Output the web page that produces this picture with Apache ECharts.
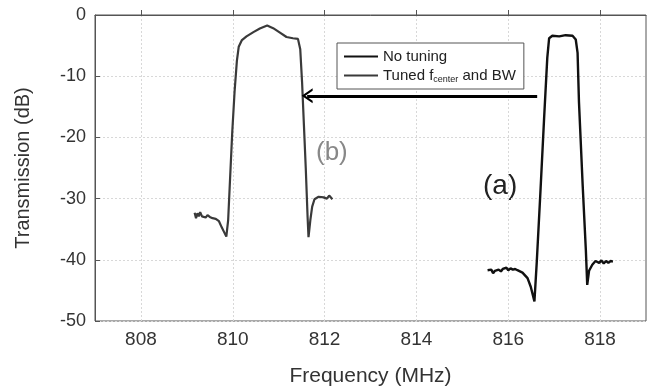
<!DOCTYPE html>
<html>
<head>
<meta charset="utf-8">
<script src="https://cdn.jsdelivr.net/npm/echarts@6/dist/echarts.min.js"></script>
<style>
html,body{margin:0;padding:0;background:#fff;}
#c{width:649px;height:392px;}
</style>
</head>
<body>
<div id="c"></div>
<script>
// ---- data ----
const xTicks = [808, 810, 812, 814, 816, 818];
const yTicks = [0, -10, -20, -30, -40, -50];
const seriesNames = ['No tuning', 'Tuned fcenter and BW'];

// (a) No tuning
const noTuningX = [815.55, 815.59, 815.63, 815.67, 815.71, 815.75, 815.79, 815.84, 815.88, 815.92, 815.96, 816.00, 816.05, 816.10, 816.15, 816.20, 816.31, 816.42, 816.49, 816.57, 816.62, 816.70, 816.78, 816.85, 816.89, 816.96, 817.11, 817.25, 817.40, 817.47, 817.51, 817.54, 817.62, 817.69, 817.72, 817.76, 817.83, 817.90, 817.98, 818.03, 818.08, 818.13, 818.18, 818.23, 818.28];
const noTuningY = [-41.7, -42.0, -41.6, -42.2, -41.8, -42.1, -41.6, -41.9, -41.5, -41.8, -41.3, -41.7, -41.4, -41.6, -41.5, -41.7, -42.1, -43.0, -44.4, -46.8, -40.5, -29.0, -17.0, -7.0, -3.8, -3.4, -3.5, -3.3, -3.4, -4.0, -6.2, -14.2, -27.7, -38.4, -44.1, -41.8, -40.8, -40.2, -40.5, -40.1, -40.6, -40.2, -40.5, -40.2, -40.3];

// (b) Tuned fcenter and BW
const tunedX = [809.17, 809.20, 809.23, 809.26, 809.29, 809.33, 809.37, 809.41, 809.45, 809.50, 809.56, 809.63, 809.70, 809.76, 809.82, 809.86, 809.90, 809.94, 809.99, 810.04, 810.09, 810.13, 810.20, 810.30, 810.45, 810.59, 810.75, 810.88, 811.02, 811.17, 811.31, 811.42, 811.47, 811.51, 811.55, 811.59, 811.63, 811.65, 811.69, 811.73, 811.78, 811.87, 811.98, 812.05, 812.10, 812.17];
const tunedY = [-32.3, -33.2, -32.4, -32.9, -32.2, -32.9, -32.6, -33.1, -32.7, -33.0, -33.2, -33.3, -33.7, -34.7, -35.6, -36.2, -33.5, -27.0, -19.0, -12.5, -7.5, -5.2, -4.1, -3.5, -2.8, -2.2, -1.7, -2.15, -2.85, -3.6, -3.8, -3.9, -5.6, -11.0, -18.0, -25.0, -33.0, -36.3, -33.5, -31.3, -30.1, -29.7, -29.8, -30.0, -29.5, -30.1];

// annotation arrow (from (a) to (b)), in data units
const arrowFrom = [816.63, -13.2];
const arrowTo = [811.62, -13.2];

const FONT = '"Liberation Sans", Arial, sans-serif';
const zip = (xs, ys) => xs.map((x, i) => [x, ys[i]]);

const chart = echarts.init(document.getElementById('c'), null, {renderer: 'canvas'});
const chevron = 'path://M5,0 L10,10 L8.3,10 L5,3.4 L1.7,10 L0,10 Z';

chart.setOption({
  animation: false,
  backgroundColor: '#fff',
  grid: {left: 95, right: 3, top: 15, bottom: 66.5, show: true, borderColor: '#555', borderWidth: 1, backgroundColor: 'transparent'},
  xAxis: {
    type: 'value', min: 807, max: 819,
    name: 'Frequency (MHz)', nameLocation: 'middle', nameGap: 45,
    nameTextStyle: {fontFamily: FONT, fontSize: 21, color: '#333'},
    axisLine: {show: true, lineStyle: {color: '#555', width: 1}},
    axisTick: {show: true, inside: true, length: 5, lineStyle: {color: '#555'}, customValues: xTicks},
    axisLabel: {fontFamily: FONT, fontSize: 19, color: '#333', margin: 9, customValues: xTicks},
    splitLine: {show: true, lineStyle: {color: '#d8d8d8', type: [2, 2], width: 1}}
  },
  yAxis: {
    type: 'value', min: -50, max: 0, interval: 10,
    name: 'Transmission (dB)', nameLocation: 'middle', nameGap: 62, nameRotate: 90,
    nameTextStyle: {fontFamily: FONT, fontSize: 20, color: '#333'},
    axisLine: {show: true, lineStyle: {color: '#555', width: 1}},
    axisTick: {show: true, inside: true, length: 5, lineStyle: {color: '#555'}},
    axisLabel: {fontFamily: FONT, fontSize: 18, color: '#333', margin: 9},
    splitLine: {show: true, lineStyle: {color: '#d8d8d8', type: [2, 2], width: 1}}
  },
  legend: {
    orient: 'vertical', left: 337, top: 43,
    padding: [5, 8, 5, 7], itemGap: 0, itemWidth: 34, itemHeight: 2, icon: 'rect',
    borderColor: '#555', borderWidth: 1, borderRadius: 0, backgroundColor: '#fff',
    data: seriesNames,
    textStyle: {fontFamily: FONT, fontSize: 15, color: '#222', lineHeight: 17,
      rich: {
        n: {fontFamily: FONT, fontSize: 15, color: '#222', lineHeight: 17},
        sub: {fontFamily: FONT, fontSize: 9, color: '#222', verticalAlign: 'bottom', lineHeight: 17, padding: [10, 0, 0, 0]}
      }},
    formatter: function (name) {
      if (name === seriesNames[1]) return '{n|Tuned f}{sub|center}{n| and BW}';
      return name;
    }
  },
  graphic: [
    {type: 'text', left: 316, top: 140, silent: true, style: {text: '(b)', fontFamily: FONT, fontSize: 26, fill: '#888'}},
    {type: 'text', left: 483, top: 172, silent: true, style: {text: '(a)', fontFamily: FONT, fontSize: 28, fill: '#222'}}
  ],
  series: [
    {
      name: seriesNames[0], type: 'line', data: zip(noTuningX, noTuningY),
      showSymbol: false, symbol: 'none', smooth: false,
      lineStyle: {color: '#111', width: 2.4}, itemStyle: {color: '#111'},
      emphasis: {disabled: true},
      markLine: {
        silent: true, symbol: ['none', chevron], symbolSize: [15, 11],
        label: {show: false},
        lineStyle: {color: '#000', width: 3.2, type: 'solid'},
        emphasis: {disabled: true},
        data: [[{coord: arrowFrom}, {coord: arrowTo}]]
      }
    },
    {
      name: seriesNames[1], type: 'line', data: zip(tunedX, tunedY),
      showSymbol: false, symbol: 'none', smooth: false,
      lineStyle: {color: '#3a3a3a', width: 2.2}, itemStyle: {color: '#3a3a3a'},
      emphasis: {disabled: true}
    }
  ]
});
</script>
</body>
</html>
